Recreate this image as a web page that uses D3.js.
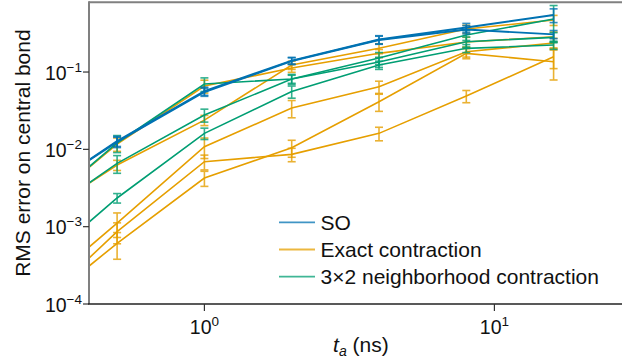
<!DOCTYPE html>
<html>
<head>
<meta charset="utf-8">
<script src="https://cdn.jsdelivr.net/npm/d3@7"></script>
<style>
  html, body { margin: 0; padding: 0; background: #fff; }
  svg { display: block; }
  text { font-family: "Liberation Sans", Arial, Helvetica, sans-serif; fill: #111; }
</style>
</head>
<body>
<svg id="chart" width="622" height="364"></svg>
<script>
// Annealing times (ns)
const times = [0.25, 0.5, 1, 2, 4, 8, 16];

// RMS error on the central bond, one array per run
const so1 = [0.00225, 0.0128, 0.0568, 0.1408, 0.2632, 0.3763, 0.546];
const so2 = [0.0023, 0.01244, 0.0551, 0.1387, 0.2593, 0.3544, 0.3073];
const exact1 = [0.00135, 0.01172, 0.0659, 0.1126, 0.1745, 0.2443, 0.2861];
const exact2 = [0.001156, 0.00627, 0.0239, 0.1231, 0.2025, 0.3598, 0.470];
const exact3 = [0.00012, 0.001115, 0.01081, 0.0342, 0.0645, 0.1830, 0.2371];
const exact4 = [0.000075, 0.000861, 0.00692, 0.00862, 0.0161, 0.0489, 0.1577];
const exact5 = [0.000074, 0.000609, 0.00426, 0.0105, 0.0413, 0.1745, 0.1359];
const nbhd1 = [0.00133, 0.01208, 0.0700, 0.0812, 0.1517, 0.3010, 0.4845];
const nbhd2 = [0.00107, 0.0066, 0.0278, 0.0812, 0.1347, 0.2465, 0.2810];
const nbhd3 = [0.000253, 0.00235, 0.0161, 0.0559, 0.1231, 0.2025, 0.2234];

// Standard errors (same units)
const so1Err = [0.0003, 0.0019, 0.0068, 0.014, 0.032, 0.049, 0.11];
const so2Err = [0.0003, 0.0019, 0.0066, 0.014, 0.031, 0.043, 0.037];
const exact1Err = [0.0003, 0.0023, 0.0125, 0.0135, 0.021, 0.037, 0.043];
const exact2Err = [0.00017, 0.00094, 0.0036, 0.015, 0.03, 0.043, 0.07];
const exact3Err = [0.00004, 0.00039, 0.0032, 0.0086, 0.0116, 0.027, 0.036];
const exact4Err = [0.00002, 0.00026, 0.0015, 0.0017, 0.0032, 0.0088, 0.047];
const exact5Err = [0.00003, 0.00023, 0.00094, 0.0026, 0.0103, 0.026, 0.057];
const nbhd1Err = [0.0003, 0.003, 0.014, 0.0097, 0.027, 0.045, 0.24];
const nbhd2Err = [0.0003, 0.0017, 0.0053, 0.012, 0.02, 0.037, 0.042];
const nbhd3Err = [0.00004, 0.00033, 0.0027, 0.01, 0.015, 0.024, 0.027];

// Legend entries
const methods = ["SO", "Exact contraction", "3\u00d72 neighborhood contraction"];
const methodColors = ["#0072B2", "#E69F00", "#009E73"];

// Axis ticks
const xTickExps = [0, 1];
const yTickExps = [-4, -3, -2, -1];

const runs = [
  { m: 1, v: exact1, e: exact1Err },
  { m: 1, v: exact2, e: exact2Err },
  { m: 1, v: exact3, e: exact3Err },
  { m: 1, v: exact4, e: exact4Err },
  { m: 1, v: exact5, e: exact5Err },
  { m: 2, v: nbhd1, e: nbhd1Err },
  { m: 2, v: nbhd2, e: nbhd2Err },
  { m: 2, v: nbhd3, e: nbhd3Err },
  { m: 0, v: so1, e: so1Err },
  { m: 0, v: so2, e: so2Err }
];

const svg = d3.select("#chart");
const plotLeft = 89, plotTop = 2.2, plotBottom = 304;

const x = d3.scaleLog().domain([0.4, 30])
  .range([plotLeft, plotLeft + (Math.log10(30) - Math.log10(0.4)) * 290]);
const y = d3.scaleLog().domain([1e-4, 0.8]).range([plotBottom, plotTop]);
const plotRight = x.range()[1];

svg.append("defs").append("clipPath").attr("id", "plotclip")
  .append("rect").attr("x", plotLeft).attr("y", plotTop)
  .attr("width", plotRight - plotLeft).attr("height", plotBottom - plotTop);

const plot = svg.append("g").attr("clip-path", "url(#plotclip)");

const line = d3.line().x(d => x(d.t)).y(d => y(d.v));

runs.forEach(r => {
  const pts = times.map((t, i) => ({ t, v: r.v[i], e: r.e[i] }));
  const col = methodColors[r.m];
  const g = plot.append("g");
  // error bars
  const eb = g.selectAll("g.eb").data(pts).join("g").attr("class", "eb")
    .attr("stroke", col).attr("stroke-width", 1.6).attr("opacity", 0.8);
  eb.append("line")
    .attr("x1", d => x(d.t)).attr("x2", d => x(d.t))
    .attr("y1", d => y(d.v + d.e)).attr("y2", d => y(d.v - d.e));
  eb.append("line")
    .attr("x1", d => x(d.t) - 4).attr("x2", d => x(d.t) + 4)
    .attr("y1", d => y(d.v + d.e)).attr("y2", d => y(d.v + d.e));
  eb.append("line")
    .attr("x1", d => x(d.t) - 4).attr("x2", d => x(d.t) + 4)
    .attr("y1", d => y(d.v - d.e)).attr("y2", d => y(d.v - d.e));
  // data line
  g.append("path").datum(pts)
    .attr("d", line).attr("fill", "none")
    .attr("stroke", col).attr("stroke-width", r.m === 0 ? 1.9 : 1.6);
});

// Spines
svg.append("line").attr("x1", plotLeft).attr("x2", plotRight).attr("y1", plotTop).attr("y2", plotTop)
  .attr("stroke", "#808080").attr("stroke-width", 2);
svg.append("line").attr("x1", plotLeft).attr("x2", plotLeft).attr("y1", plotTop - 1).attr("y2", plotBottom)
  .attr("stroke", "#808080").attr("stroke-width", 2);
svg.append("line").attr("x1", plotLeft - 1).attr("x2", plotRight).attr("y1", plotBottom).attr("y2", plotBottom)
  .attr("stroke", "#222").attr("stroke-width", 1.4);

// Y ticks
yTickExps.forEach(p => {
  const yy = y(Math.pow(10, p));
  svg.append("line").attr("x1", plotLeft - 6).attr("x2", plotLeft).attr("y1", yy).attr("y2", yy)
    .attr("stroke", "#333").attr("stroke-width", 1.2);
  const t = svg.append("text").attr("x", plotLeft - 7).attr("y", yy + 7.5)
    .attr("text-anchor", "end").attr("font-size", 19.5);
  t.append("tspan").text("10");
  t.append("tspan").attr("dy", -8).attr("font-size", 13.5).text("\u2212" + Math.abs(p));
});

// X ticks
xTickExps.forEach(p => {
  const xx = x(Math.pow(10, p));
  svg.append("line").attr("x1", xx).attr("x2", xx).attr("y1", plotBottom).attr("y2", plotBottom + 7)
    .attr("stroke", "#333").attr("stroke-width", 1.2);
  const t = svg.append("text").attr("x", xx).attr("y", 334)
    .attr("text-anchor", "middle").attr("font-size", 19.5);
  t.append("tspan").text("10");
  t.append("tspan").attr("dy", -8).attr("font-size", 13.5).text(String(p));
});

// Axis labels
const xl = svg.append("text").attr("x", (plotLeft + plotRight) / 2).attr("y", 352)
  .attr("text-anchor", "middle").attr("font-size", 21);
xl.append("tspan").attr("font-style", "italic").text("t");
xl.append("tspan").attr("font-style", "italic").attr("font-size", 14).attr("dy", 4).text("a");
xl.append("tspan").attr("dy", -4).text(" (ns)");

svg.append("text")
  .attr("transform", `translate(30, ${(plotTop + plotBottom) / 2}) rotate(-90)`)
  .attr("text-anchor", "middle").attr("font-size", 21)
  .text("RMS error on central bond");

// Legend
const leg = svg.append("g");
methods.forEach((m, i) => {
  const ly = 222.3 + i * 27.2;
  leg.append("line").attr("x1", 279).attr("x2", 315).attr("y1", ly).attr("y2", ly)
    .attr("stroke", methodColors[i]).attr("stroke-width", 1.8).attr("opacity", 0.75);
  leg.append("text").attr("x", 320.5).attr("y", ly + 7.4).attr("font-size", 21).text(m);
});
</script>
</body>
</html>
